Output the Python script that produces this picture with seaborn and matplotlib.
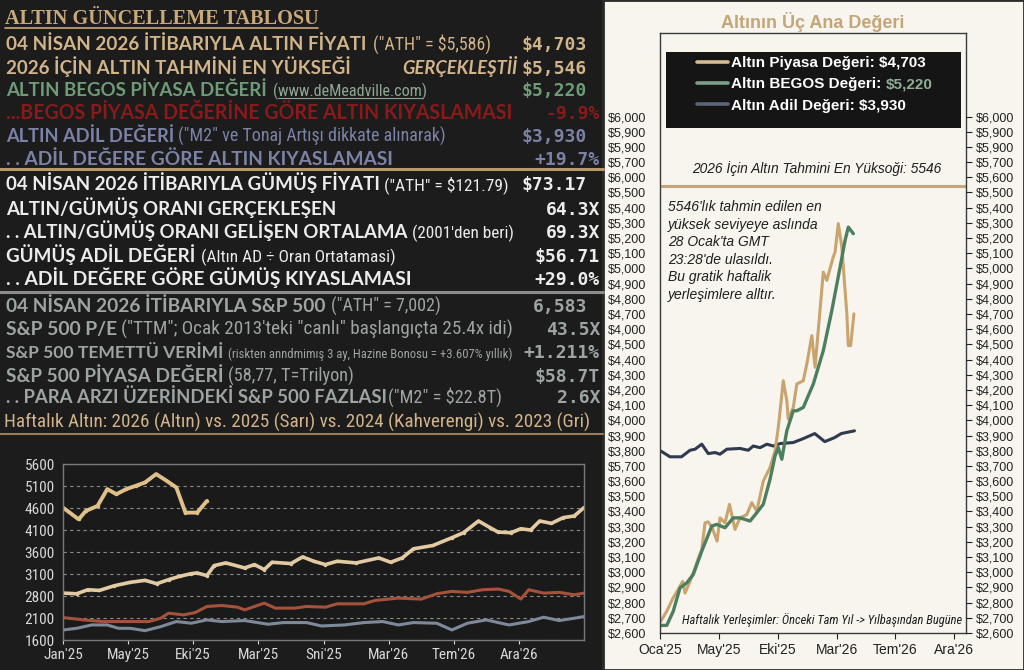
import pandas as pd
import seaborn as sns
import matplotlib.pyplot as plt
from matplotlib import font_manager
from matplotlib.patches import Rectangle
from matplotlib.lines import Line2D

sns.set_style("white")

installed = {f.name for f in font_manager.fontManager.ttflist}


def pick(*names):
    for n in names:
        if n in installed:
            return n
    return "DejaVu Sans"


BOLD = pick("Lato", "Open Sans", "Roboto")
NARROW = pick("Liberation Sans Narrow", "Roboto Condensed", "Roboto")
ARIAL = pick("Liberation Sans", "Arial", "Roboto")
MONO = pick("DejaVu Sans Mono", "Liberation Mono")
SERIF = pick("Liberation Serif", "DejaVu Serif")
plt.rcParams["font.family"] = [ARIAL, "DejaVu Sans"]

# ---------------- data ----------------
# weekly gold, left chart (x in tick steps)
g26_x = [0, 0.24, 0.35, 0.53, 0.68, 0.82, 0.97, 1.12, 1.26, 1.43, 1.59, 1.74, 1.88, 2.06, 2.21]
g26_y = [4609, 4343, 4533, 4647, 5029, 4914, 5029, 5105, 5181, 5371, 5219, 5067, 4495, 4495, 4762]

g25_x = [0, 0.21, 0.38, 0.56, 0.79, 1.03, 1.26, 1.44, 1.62, 1.79, 1.97, 2.06, 2.21, 2.32, 2.5,
         2.79, 2.94, 3.09, 3.21, 3.5, 3.68, 3.85, 4.03, 4.21, 4.5, 4.85, 5.03, 5.21, 5.38, 5.68,
         5.97, 6.15, 6.38, 6.56, 6.68, 6.88, 7.03, 7.18, 7.32, 7.5, 7.68, 7.85, 8.0]
g25_y = [2666, 2651, 2742, 2727, 2834, 2910, 2956, 2880, 2971, 3047, 3108, 3124, 3063, 3291, 3352,
         3238, 3314, 3200, 3367, 3337, 3489, 3390, 3314, 3390, 3352, 3466, 3367, 3466, 3672, 3748,
         3924, 4038, 4305, 4152, 4053, 4038, 4129, 4099, 4305, 4251, 4381, 4419, 4609]

g24_x = [0, 0.32, 0.62, 0.97, 1.32, 1.5, 1.62, 1.85, 2.03, 2.21, 2.44, 2.68, 2.79, 3.09, 3.26,
         3.56, 3.74, 4.03, 4.21, 4.62, 4.79, 5.15, 5.5, 5.74, 5.97, 6.21, 6.44, 6.68, 6.85, 7.03,
         7.15, 7.38, 7.62, 7.85, 8.0]
g24_y = [2110, 2057, 2019, 2019, 2019, 2095, 2209, 2171, 2224, 2362, 2384, 2346, 2285, 2438, 2324,
         2324, 2362, 2346, 2422, 2422, 2499, 2552, 2529, 2651, 2705, 2682, 2742, 2758, 2705, 2529,
         2742, 2666, 2682, 2628, 2666]

g23_x = [0, 0.21, 0.44, 0.68, 0.85, 1.03, 1.26, 1.5, 1.74, 1.97, 2.21, 2.44, 2.79, 3.15, 3.38,
         3.74, 3.97, 4.32, 4.62, 4.91, 5.15, 5.38, 5.74, 5.97, 6.21, 6.5, 6.85, 7.15, 7.38, 7.62,
         7.85, 8.0]
g23_y = [1828, 1866, 1942, 1942, 1866, 1866, 1813, 1904, 2019, 1981, 2057, 2019, 2042, 1958, 1996,
         1996, 1919, 1942, 1996, 2019, 1942, 1996, 1981, 1828, 1981, 2057, 1942, 2019, 2118, 2042,
         2095, 2133]

left_xticks = ["Jan'25", "May'25", "Eki'25", "Mar'25", "Sni'25", "Mar'26", "Tem'26", "Ara'26"]
left_yticks = [1600, 2100, 2600, 3100, 3600, 4100, 4600, 5100, 5600]
left_ylabels = ["1600", "2100", "2800", "3100", "3600", "4100", "4600", "5100", "5600"]

# right chart (x in weeks from Jan 2025)
market_x = [0.2, 2.3, 4.4, 6.8, 7.7, 8.5, 10.2, 11.9, 12.9, 14.2, 15.3, 16.3, 17.6, 19.4, 20.4,
            22.1, 23.6, 25.5, 27.2, 29.5, 31.2, 32.9, 35.1, 37.4, 39.1, 40.2, 41.9, 43.1, 43.6,
            45.3, 46.5, 48.7, 49.9, 51.6, 52.7, 55.5, 56.7, 57.8, 58.9, 59.5, 60.6, 61.8, 63.5,
            64.0, 64.8, 65.9]
market_y = [2676, 2743, 2829, 2907, 2940, 2863, 2940, 3028, 3085, 3150, 3325, 3332, 3300, 3205, 3358,
            3325, 3447, 3282, 3358, 3380, 3458, 3403, 3600, 3690, 3799, 3953, 4261, 4129, 4008,
            4085, 4239, 4261, 4371, 4558, 4349, 4976, 4921, 5000, 5077, 5108, 5295, 5141, 4701,
            4492, 4492, 4701]

begos_x = [0.2, 2.3, 4.5, 6.8, 9.1, 11.3, 14.2, 17.6, 19.3, 22.1, 24.9, 27.2, 30.6, 32.9, 35.1,
           37.4, 39.1, 40.2, 41.4, 43.1, 45.3, 46.5, 48.7, 52.1, 55.5, 58.4, 61.2, 62.9, 64.0, 65.7]
begos_y = [2650, 2650, 2743, 2897, 2930, 2985, 3139, 3304, 3315, 3293, 3358, 3358, 3337, 3392, 3447,
           3612, 3766, 3821, 3744, 3931, 4063, 4063, 4085, 4239, 4459, 4723, 5008, 5185, 5272, 5229]

fair_x = [0.2, 3.4, 7.3, 10.2, 11.9, 14.2, 16.4, 18.7, 20.4, 22.7, 27.2, 30.0, 31.7, 34.0, 36.3,
          38.5, 40.8, 45.3, 49.1, 52.6, 56.0, 59.4, 61.6, 66.1]
fair_y = [3799, 3760, 3760, 3803, 3810, 3843, 3781, 3788, 3777, 3810, 3815, 3803, 3831, 3820, 3843,
          3831, 3847, 3854, 3883, 3913, 3860, 3887, 3913, 3931]

forecast_high = 5546
right_xticks = ["Oca'25", "May'25", "Eki'25", "Mar'26", "Tem'26", "Ara'26"]
right_yticks = list(range(2600, 6001, 100))[::-1]
right_left_labels = ["$6,000", "$5,900", "$5,900", "$5,700", "$6,000", "$5,500", "$5,400", "$5,300",
                     "$5,200", "$5,100", "$5,000", "$4,900", "$4,800", "$4,700", "$4,000", "$4,500",
                     "$4,400", "$4,300", "$4,200", "$4,100", "$4,000", "$3,900", "$3,800", "$5,700",
                     "$3,600", "$3,500", "$3,400", "$3,300", "$3,200", "$3,100", "$3,000", "$2,900",
                     "$2,800", "$2,700", "$2,600"]
right_right_labels = ["$6,000", "$5,900", "$5,900"] + ["${:,}".format(v) for v in right_yticks[3:]]

# ---------------- colours ----------------
BG = "#1c1c1c"
CREAM = "#f8f5ee"
GOLD = "#d2b48a"
GREEN = "#6f9c78"
RED = "#8a1a1a"
SLATE = "#7b82a6"
WHITE = "#ececec"
GRAY = "#9ea3a3"

W, H = 1024, 670
fig = plt.figure(figsize=(W / 100, H / 100), dpi=100, facecolor=BG)
renderer = fig.canvas.get_renderer()


def fx(x):
    return x / W


def fy(y):
    return 1 - y / H


def fit(x0, x1, base, s, size=10, ha="left", **kw):
    t = fig.text(fx(x0) if ha == "left" else fx(x1), fy(base), s, fontsize=size,
                 ha=ha, va="baseline", **kw)
    w = t.get_window_extent(renderer).width
    t.set_fontsize(size * (x1 - x0) / w)
    return t


def hline(x0, x1, y, color, lw):
    fig.add_artist(Line2D([fx(x0), fx(x1)], [fy(y), fy(y)], color=color, lw=lw,
                          transform=fig.transFigure))


# ---------------- left table ----------------
fit(5, 318, 24, "ALTIN GÜNCELLEME TABLOSU", color="#c9a97a", family=SERIF, weight="bold")
hline(5, 318, 28, "#c9a97a", 1.2)

# baseline, label, label end, note, note start, note end, value, value end, colour
table_rows = [
    (50, "04 NİSAN 2026 İTİBARIYLA ALTIN FİYATI", 367, '("ATH" = $5,586)', 373, 490, "$4,703", 587, GOLD),
    (74, "2026 İÇİN ALTIN TAHMİNİ EN YÜKSEĞİ", 352, None, 0, 0, "$5,546", 587, GOLD),
    (96, "ALTIN BEGOS PİYASA DEĞERİ", 268, "(www.deMeadville.com)", 273, 427, "$5,220", 587, GREEN),
    (119, "...BEGOS PİYASA DEĞERİNE GÖRE ALTIN KIYASLAMASI", 511, None, 0, 0, "-9.9%", 600, RED),
    (142, "ALTIN ADİL DEĞERİ", 174, '("M2" ve Tonaj Artışı dikkate alınarak)', 178, 444, "$3,930", 587, SLATE),
    (165, ". . ADİL DEĞERE GÖRE ALTIN KIYASLAMASI", 394, None, 0, 0, "+19.7%", 600, SLATE),
    (190, "04 NİSAN 2026 İTİBARIYLA GÜMÜŞ FİYATI", 381, '("ATH" = $121.79)', 384, 507, "$73.17", 587, WHITE),
    (215, "ALTIN/GÜMÜŞ ORANI GERÇEKLEŞEN", 337, None, 0, 0, "64.3X", 600, WHITE),
    (238, ". . ALTIN/GÜMÜŞ ORANI GELİŞEN ORTALAMA", 408, "(2001'den beri)", 412, 513, "69.3X", 600, WHITE),
    (262, "GÜMÜŞ ADİL DEĞERİ", 195, "(Altın AD ÷ Oran Ortatamasi)", 201, 394, "$56.71", 600, WHITE),
    (285, ". . ADİL DEĞERE GÖRE GÜMÜŞ KIYASLAMASI", 411, None, 0, 0, "+29.0%", 600, WHITE),
    (312, "04 NİSAN 2026 İTİBARIYLA S&P 500", 327, '("ATH" = 7,002)', 331, 440, "6,583", 587, GRAY),
    (335, "S&P 500 P/E", 117, '("TTM"; Ocak 2013\'teki "canlı" başlangıçta 25.4x idi)', 121, 511, "43.5X", 600, GRAY),
    (358, "S&P 500 TEMETTÜ VERİMİ", 224, "(riskten anndmimış 3 ay, Hazine Bonosu = +3.607% yıllık)", 228, 511, "+1.211%", 600, GRAY),
    (382, "S&P 500 PİYASA DEĞERİ", 224, "(58,77, T=Trilyon)", 228, 354, "$58.7T", 600, GRAY),
    (403, ". . PARA ARZI ÜZERİNDEKİ S&P 500 FAZLASI", 385, '("M2" = $22.8T)', 388, 501, "2.6X", 600, GRAY),
]

for base, label, lx1, note, nx0, nx1, value, vx1, col in table_rows:
    fit(6, lx1, base, label, color=col, family=[BOLD, "DejaVu Sans"], weight="bold")
    if note:
        ncol = "#8fa893" if col == GREEN else col
        fit(nx0, nx1, base, note, color=ncol, family=[NARROW, "DejaVu Sans"])
        if col == GREEN:
            hline(nx0 + 5, nx1 - 5, base + 2, ncol, 0.8)
    fig.text(fx(vx1), fy(base), value, color=col, fontsize=13, family=MONO,
             weight="bold", ha="right", va="baseline")

fit(402, 517, 74, "GERÇEKLEŞTİİ", color=GOLD, family=[BOLD, "DejaVu Sans"],
    weight="bold", style="italic")
fit(4, 584, 428, "Haftalık Altın: 2026 (Altın) vs. 2025 (Sarı) vs. 2024 (Kahverengi) vs. 2023 (Gri)",
    color=GOLD, family=[NARROW, "DejaVu Sans"])

hline(0, 603, 169, "#b89a6a", 2.2)
hline(0, 603, 292, "#8c8c8c", 2.2)
hline(0, 603, 434, "#9a7c5c", 1.5)

# ---------------- left chart ----------------
ax_l = fig.add_axes([fx(63), fy(640), (584 - 63) / W, (640 - 464) / H])
ax_l.set_facecolor("#1a1a1a")
sns.lineplot(x=g23_x, y=g23_y, ax=ax_l, color="#7e8a9a", lw=2.2, estimator=None, sort=False)
sns.lineplot(x=g24_x, y=g24_y, ax=ax_l, color="#a4523a", lw=2.2, estimator=None, sort=False)
sns.lineplot(x=g25_x, y=g25_y, ax=ax_l, color="#e2cba2", lw=2.6, estimator=None, sort=False,
             marker="o", markersize=2.5, markeredgewidth=0)
sns.lineplot(x=g26_x, y=g26_y, ax=ax_l, color="#dfc088", lw=2.8, estimator=None, sort=False,
             marker="o", markersize=2.5, markeredgewidth=0)
ax_l.set_xlim(0, 8)
ax_l.set_ylim(1600, 5600)
ax_l.set_xticks(range(8), left_xticks)
ax_l.set_yticks(left_yticks, left_ylabels)
ax_l.grid(axis="y", color="#8a8a8a", ls=(0, (3, 3)), lw=0.8)
ax_l.tick_params(axis="x", colors="#d8d8d8", labelsize=11, length=3, width=0.8, pad=3, bottom=True)
ax_l.tick_params(axis="y", colors="#d8d8d8", labelsize=11, length=0, pad=6)
for lab in ax_l.get_xticklabels() + ax_l.get_yticklabels():
    lab.set_family([NARROW, "DejaVu Sans"])
for sp in ax_l.spines.values():
    sp.set_color("#7a7a7a")
    sp.set_linewidth(1)
ax_l.set_xlabel("")
ax_l.set_ylabel("")

# ---------------- right panel ----------------
fig.add_artist(Rectangle((fx(603), 0), 1 - fx(603), 1, transform=fig.transFigure,
                         facecolor=CREAM, edgecolor="#2b2b2b", lw=2, zorder=0))

ax_r = fig.add_axes([fx(660), fy(633), (966 - 660) / W, (633 - 33) / H])
ax_r.set_facecolor(CREAM)
sns.lineplot(x=fair_x, y=fair_y, ax=ax_r, color="#2f3a4e", lw=2.2, estimator=None, sort=False)
sns.lineplot(x=market_x, y=market_y, ax=ax_r, color="#c9a46e", lw=2.2, estimator=None, sort=False)
sns.lineplot(x=begos_x, y=begos_y, ax=ax_r, color="#4b7f5f", lw=2.4, estimator=None, sort=False)
ax_r.axhline(forecast_high, color="#c4a678", lw=2.2)
ax_r.set_xlim(0, 104)
ax_r.set_ylim(2600, 6550)
ax_r.set_xticks(range(0, 101, 20), right_xticks)
ax_r.set_yticks(right_yticks, right_left_labels)
ax_r.tick_params(axis="x", colors="#222222", labelsize=10, length=4, width=0.8, bottom=True, pad=3)
ax_r.tick_params(axis="y", colors="#222222", labelsize=9, length=0, pad=10)
for sp in ax_r.spines.values():
    sp.set_color("#3a3a3a")
    sp.set_linewidth(1)
ax_r.set_xlabel("")
ax_r.set_ylabel("")

ax_r2 = ax_r.twinx()
ax_r2.set_ylim(ax_r.get_ylim())
ax_r2.set_yticks(right_yticks, right_right_labels)
ax_r2.tick_params(axis="y", colors="#222222", labelsize=9, length=4, width=0.8, pad=3, right=True)
ax_r2.grid(False)
for sp in ax_r2.spines.values():
    sp.set_visible(False)

# legend box
ax_r.add_patch(Rectangle((0.02, 0.842), 0.964, 0.126, transform=ax_r.transAxes,
                         facecolor="#151515", edgecolor="none", zorder=3))
handles = [Line2D([], [], color="#d6ba92", lw=2.6),
           Line2D([], [], color="#7ea08a", lw=2.6),
           Line2D([], [], color="#5b6479", lw=2.6)]
labels = ["Altın Piyasa Değeri: $4,703", "Altın BEGOS Değeri:", "Altın Adil Değeri: $3,930"]
leg = ax_r.legend(handles, labels, loc="upper left", bbox_to_anchor=(fx(697), fy(56)),
                  bbox_transform=fig.transFigure, frameon=False, handlelength=2.0,
                  handletextpad=0.25, labelspacing=0.48, borderpad=0, borderaxespad=0,
                  prop={"family": ARIAL, "weight": "bold", "size": 11}, labelcolor="white")
leg.set_zorder(5)

fig.text(fx(813), fy(28), "Altının Üç Ana Değeri", color="#c4a577", fontsize=13,
         weight="bold", ha="center", va="baseline")
fit(692, 943, 173, "2026 İçin Altın Tahmini En Yüksoği: 5546", color="#1e1e1e", style="italic")

note_lines = ["5546'lık tahmin edilen en", "yüksek seviyeye aslında", "28 Ocak'ta GMT",
              "23:28'de ulasıldı.", "Bu gratik haftalik", "yerleşimlere alltır."]
for i, line in enumerate(note_lines):
    fig.text(fx(668), fy(211 + i * 17.6), line, color="#1e1e1e", fontsize=10,
             style="italic", va="baseline")

fit(682, 962, 624, "Haftalık Yerleşimler: Önceki Tam Yıl -> Yılbaşından Bugüne",
    color="#1e1e1e", style="italic", family=[NARROW, "DejaVu Sans"])

fig.canvas.draw()
bb = leg.get_texts()[1].get_window_extent(renderer)
fig.text(bb.x1 / W + 4 / W, bb.y0 / H, "$5,220", color="#8fae94", fontsize=11,
         weight="bold", va="bottom")

fig.savefig("out.png", dpi=100, facecolor=BG)
